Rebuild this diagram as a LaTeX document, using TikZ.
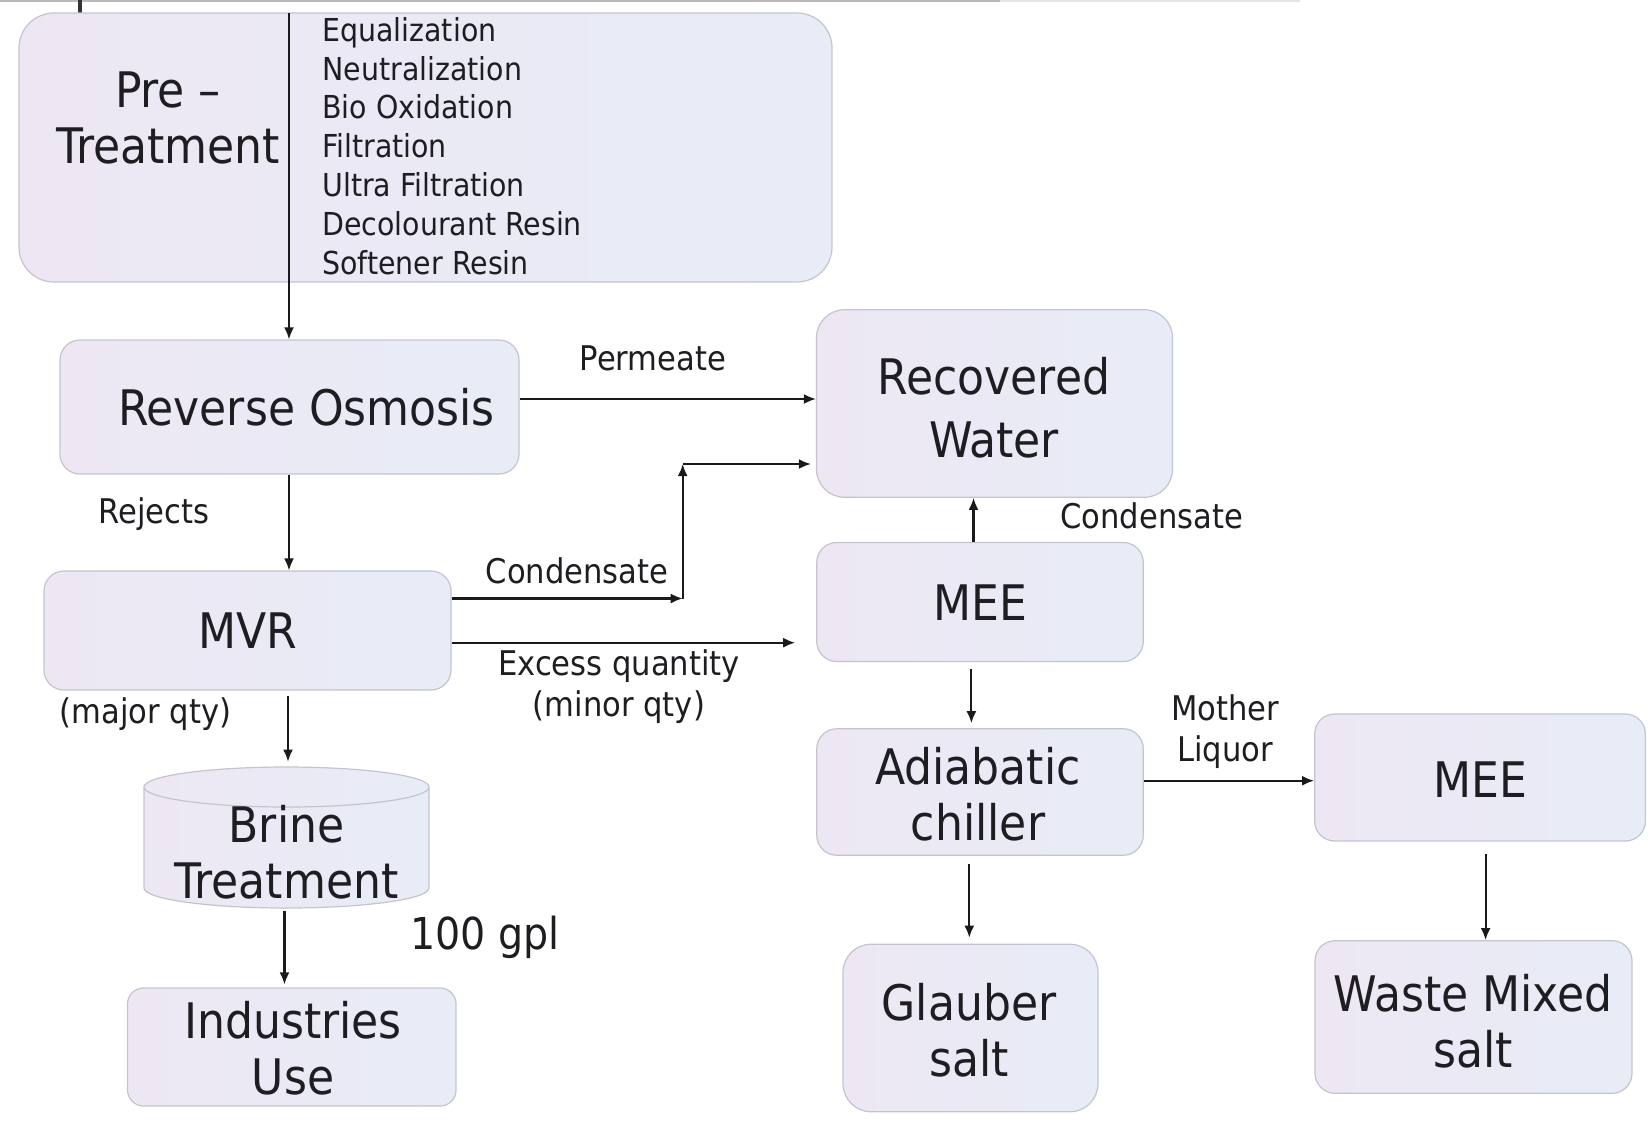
\documentclass[tikz,border=0pt]{standalone}
\usepackage{fontspec}
\setmainfont{DejaVu Sans Condensed}
\usetikzlibrary{arrows.meta}
\definecolor{boxL}{RGB}{237,231,243}
\definecolor{boxR}{RGB}{232,236,247}
\definecolor{bordc}{RGB}{196,196,206}
\definecolor{txt}{RGB}{30,30,34}
\definecolor{arrc}{RGB}{26,26,28}
\newcommand\bigtxt{\fontsize{24.5}{28}\selectfont}
\newcommand\lbltxt{\fontsize{17}{20.5}\selectfont}
\newcommand\lsttxt{\fontsize{15.8}{19.4}\selectfont}
\begin{document}
\begin{tikzpicture}[x=0.5pt,y=-0.5pt,
  box/.style={draw=bordc, line width=0.6pt, left color=boxL, right color=boxR,
    rounded corners=10pt, inner sep=0pt, align=center, text=txt, font=\bigtxt},
  lbl/.style={text=txt, font=\lbltxt, inner sep=0pt, align=center},
  arr/.style={draw=arrc, line width=1.05pt, -{Latex[length=6pt,width=5pt]}}]
\useasboundingbox (0,0) rectangle (1652,1120);
\fill[white] (0,0) rectangle (1652,1120);
% scan edge at the top
\draw[gray!55, line width=1.2pt] (0,1.2) -- (1000,1.2);
\draw[gray!22, line width=1pt] (1000,1.2) -- (1300,1.2);
\draw[black!80, line width=1.6pt] (80,0) -- (80,13);

% boxes
\node[box, rounded corners=17.5pt, minimum width=406.5pt, minimum height=134.5pt] (pt) at (425.5,147.5) {};
\node[box, minimum width=229.5pt, minimum height=67pt] (ro) at (289.5,407) {\hspace*{17pt}Reverse Osmosis};
\node[box, rounded corners=14pt, minimum width=178pt, minimum height=93.75pt] (rw) at (994.5,403.5) {};
\node[box, minimum width=203.5pt, minimum height=59.5pt] (mvr) at (247.5,630.5) {};
\node[box, rounded corners=8pt, minimum width=164.25pt, minimum height=59pt] (ind) at (291.8,1047) {};
\node[box, minimum width=163.25pt, minimum height=59.5pt] (mee1) at (980,602) {};
\node[box, minimum width=163.25pt, minimum height=63.25pt] (adi) at (980,792) {};
\node[box, minimum width=165.35pt, minimum height=63.5pt] (mee2) at (1480,777.5) {};
\node[box, rounded corners=14pt, minimum width=127.5pt, minimum height=83.75pt] (gla) at (970.5,1028) {};
\node[box, minimum width=158.5pt, minimum height=76.3pt] (waste) at (1473.5,1017) {};

% brine cylinder
\node[inner sep=0pt, minimum width=142.5pt, minimum height=70.5pt] (brine) at (286.5,837.5) {};
\path[draw=bordc, line width=0.6pt, left color=boxL, right color=boxR]
  (144,787) -- (144,888) arc[start angle=180, end angle=0, x radius=142.5, y radius=20]
  -- (429,787) arc[start angle=0, end angle=-180, x radius=142.5, y radius=20] -- cycle;
\draw[bordc, line width=0.6pt] (144,787) arc[start angle=180, end angle=0, x radius=142.5, y radius=20];

% texts inside boxes
\node[lbl, font=\bigtxt] (pretxt) at (168,118) {Pre –\\Treatment};
\node[lbl, font=\lsttxt, anchor=west, align=left] (steps) at (322,146)
  {Equalization\\Neutralization\\Bio Oxidation\\Filtration\\Ultra Filtration\\Decolourant Resin\\Softener Resin};
\node[lbl, font=\fontsize{24.5}{31.5}\selectfont] (rwtxt) at (994,408) {Recovered\\Water};
\node[lbl, font=\bigtxt] (mvrtxt) at (247.5,631) {MVR};
\node[lbl, font=\bigtxt] (brtxt) at (286.6,852) {Brine\\Treatment};
\node[lbl, font=\bigtxt] (indtxt) at (293,1048.5) {Industries\\Use};
\node[lbl, font=\bigtxt] (m1txt) at (980,603) {MEE};
\node[lbl, font=\bigtxt] (aditxt) at (978,794.5) {Adiabatic\\chiller};
\node[lbl, font=\bigtxt] (m2txt) at (1480,780) {MEE};
\node[lbl, font=\bigtxt] (glatxt) at (969,1030) {Glauber\\salt};
\node[lbl, font=\bigtxt] (wtxt) at (1473,1021) {Waste Mixed\\salt};

% labels
\node[lbl] (lperm) at (653,358) {Permeate};
\node[lbl] (lrej) at (154,514) {Rejects};
\node[lbl] (lcond) at (577,571) {Condensate};
\node[lbl] (lexc) at (619,687) {Excess quantity\\(minor qty)};
\node[lbl] (lmaj) at (145.4,714) {(major qty)};
\node[lbl, font=\fontsize{22}{26}\selectfont] (lgpl) at (484.7,937.7) {100 gpl};
\node[lbl] (lcond2) at (1151.6,516) {Condensate};
\node[lbl] (lml) at (1225,732) {Mother\\Liquor};

% helper coordinates
\coordinate (div) at (289,13);
\coordinate (yperm) at (0,399);
\coordinate (cA) at (682.7,598.5);
\coordinate (cB) at (682.7,464);
\coordinate (yexc) at (0,642.7);
\coordinate (xbr) at (288,0);
\coordinate (xind) at (284.5,0);
\coordinate (xrw) at (973.5,0);
\coordinate (xadi) at (971.4,0);
\coordinate (yml) at (0,780.7);
\coordinate (xgla) at (969.3,0);
\coordinate (xwas) at (1485.6,0);

% connectors
\draw[arr] (div) -- (div |- ro.north);
\draw[arr] (ro.south -| div) -- (mvr.north -| div);
\draw[arr] (ro.east |- yperm) -- (rw.west |- yperm);
\draw[arr] (mvr.east |- cA) -- (cA);
\draw[arr] (cA) -- (cB);
\draw[arr, shorten >=2.5pt] (cB) -- (rw.west |- cB);
\draw[arr, shorten >=10.5pt] (mvr.east |- yexc) -- (mee1.west |- yexc);
\draw[arr, shorten <=2.5pt, shorten >=2.5pt] (mvr.south -| xbr) -- (brine.north -| xbr);
\draw[arr, shorten <=1.5pt, shorten >=1.5pt] (brine.south -| xind) -- (ind.north -| xind);
\draw[arr] (mee1.north -| xrw) -- (rw.south -| xrw);
\draw[arr, shorten <=3.5pt, shorten >=2.5pt] (mee1.south -| xadi) -- (adi.north -| xadi);
\draw[arr] (adi.east |- yml) -- (mee2.west |- yml);
\draw[arr, shorten <=4pt, shorten >=3pt] (adi.south -| xgla) -- (gla.north -| xgla);
\draw[arr, shorten <=6pt] (mee2.south -| xwas) -- (waste.north -| xwas);
\end{tikzpicture}
\end{document}
